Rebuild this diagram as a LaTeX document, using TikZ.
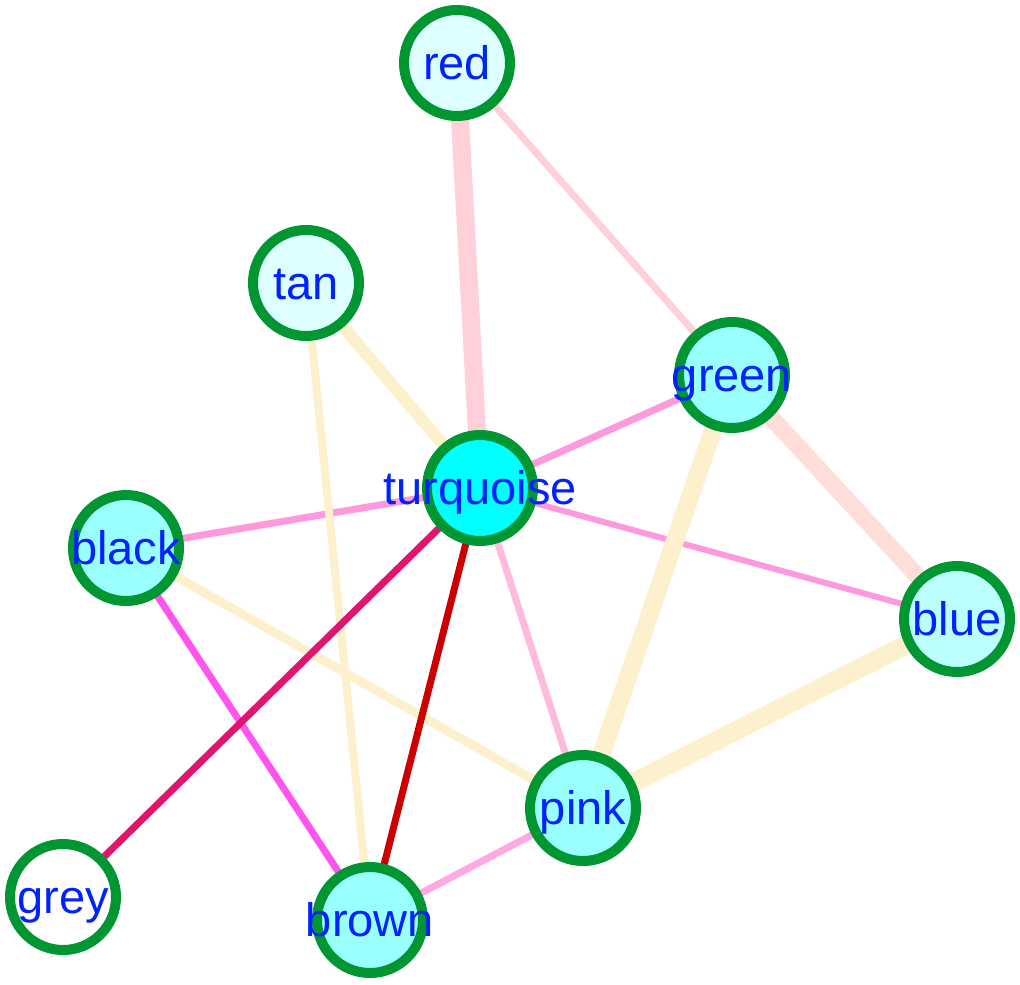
\documentclass[tikz,border=0pt]{standalone}
\usepackage{fontspec}
\setmainfont{Liberation Sans}
\usetikzlibrary{backgrounds}

% colours of rings, fills and labels
\definecolor{ringgreen}{RGB}{0,150,50}
\definecolor{labelblue}{RGB}{0,34,255}
\definecolor{fillpale}{RGB}{221,255,255}
\definecolor{fillmid}{RGB}{187,255,255}
\definecolor{filllight}{RGB}{153,255,255}
\definecolor{fillfull}{RGB}{0,255,255}

% colours of links
\definecolor{rosepale}{RGB}{255,208,216}
\definecolor{salmonpale}{RGB}{255,221,216}
\definecolor{creampale}{RGB}{253,240,204}
\definecolor{orchid}{RGB}{255,153,221}
\definecolor{orchidpale}{RGB}{255,187,221}
\definecolor{magentalink}{RGB}{255,85,238}
\definecolor{crimsonlink}{RGB}{224,22,110}
\definecolor{redlink}{RGB}{204,0,0}

\newcommand{\vlabel}[1]{\makebox[0pt]{#1}}

\begin{document}
\begin{tikzpicture}[x=1pt,y=-1pt,
  vertex/.style={circle, draw=ringgreen, line width=10pt, minimum size=106pt,
    inner sep=0pt, text=labelblue, font=\fontsize{47}{47}\selectfont,
    text height=34pt, text depth=2pt},
  link/.style={line width=#1}]

\useasboundingbox (0,0) rectangle (1020,985);

%--- Vertices ---
\node[vertex, fill=fillpale]  (red)       at (457,63)  {\vlabel{red}};
\node[vertex, fill=fillpale]  (tan)       at (306,283) {\vlabel{tan}};
\node[vertex, fill=filllight] (green)     at (732,375) {\vlabel{green}};
\node[vertex, fill=fillfull]  (turquoise) at (480,488) {\vlabel{turquoise}};
\node[vertex, fill=filllight] (black)     at (126,548) {\vlabel{black}};
\node[vertex, fill=fillmid]   (blue)      at (957,619) {\vlabel{blue}};
\node[vertex, fill=filllight] (pink)      at (583,808) {\vlabel{pink}};
\node[vertex, fill=white]     (grey)      at (63,897)  {\vlabel{grey}};
\node[vertex, fill=filllight] (brown)     at (370,920) {\vlabel{brown}};

%--- Links (behind the vertices) ---
\begin{scope}[on background layer]
  % thin pink links
  \draw[link=7pt, draw=rosepale]   (red.center) -- (green.center);
  \draw[link=7pt, draw=orchid]     (turquoise.center) -- (green.center);
  \draw[link=7pt, draw=orchid]     (turquoise.center) -- (black.center);
  \draw[link=6pt, draw=orchid]     (turquoise.center) -- (blue.center);
  \draw[link=7pt, draw=orchidpale] (turquoise.center) -- (pink.center);
  \draw[link=7pt, draw=orchid!85]  (pink.center) -- (brown.center);

  % wide pale links
  \draw[link=18pt, draw=rosepale]   (red.center) -- (turquoise.center);
  \draw[link=17pt, draw=salmonpale] (green.center) -- (blue.center);
  \draw[link=12pt, draw=creampale]  (tan.center) -- (turquoise.center);
  \draw[link=8pt,  draw=creampale]  (tan.center) -- (brown.center);
  \draw[link=9pt,  draw=creampale]  (black.center) -- (pink.center);
  \draw[link=18pt, draw=creampale]  (green.center) -- (pink.center);
  \draw[link=19pt, draw=creampale]  (blue.center) -- (pink.center);

  % strong links
  \draw[link=7pt, draw=magentalink] (black.center) -- (brown.center);
  \draw[link=7pt, draw=crimsonlink] (turquoise.center) -- (grey.center);
  \draw[link=7pt, draw=redlink]     (turquoise.center) -- (brown.center);
\end{scope}

\end{tikzpicture}
\end{document}
